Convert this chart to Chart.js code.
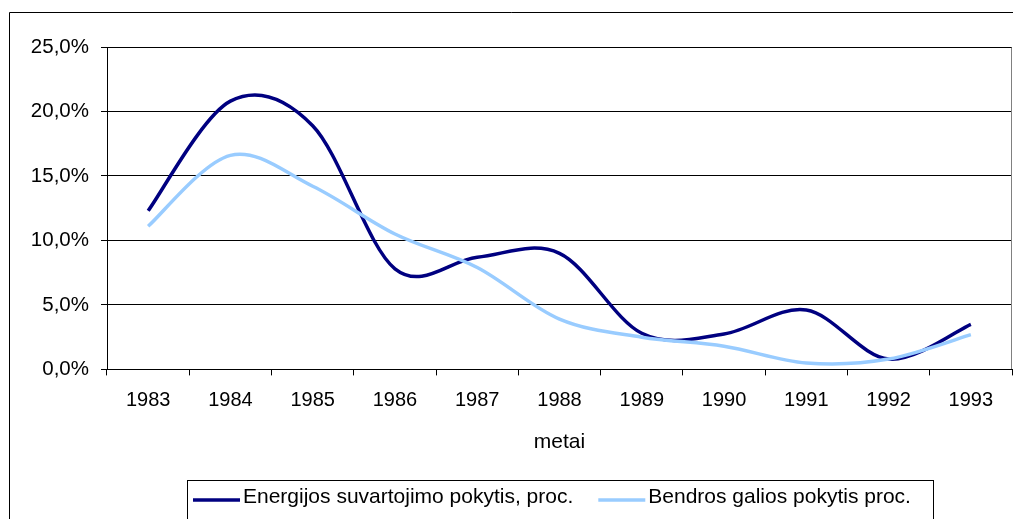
<!DOCTYPE html>
<html>
<head>
<meta charset="utf-8">
<script src="https://cdn.jsdelivr.net/npm/chart.js@4"></script>
<style>
  html, body { margin: 0; padding: 0; background: #fff; }
  #wrap { width: 1013px; height: 519px; position: relative; }
</style>
</head>
<body>
<div id="wrap"><canvas id="c" width="1013" height="519"></canvas></div>
<script>
// ---- data (percent) ----
const years = ['1983','1984','1985','1986','1987','1988','1989','1990','1991','1992','1993'];
const energyChange = [12.3, 20.8, 18.9, 7.8, 8.7, 9.0, 2.8, 2.75, 4.6, 0.8, 3.5];
const totalPowerChange = [11.1, 16.6, 14.2, 10.5, 7.9, 3.9, 2.5, 1.8, 0.5, 0.8, 2.7];
const seriesNames = ['Energijos suvartojimo pokytis, proc.', 'Bendros galios pokytis proc.'];
const seriesColors = ['#000080', '#99CCFF'];
const axisTitleX = 'metai';

const FONT = "'Liberation Sans', Arial, sans-serif";
Chart.defaults.font.family = FONT;
Chart.defaults.color = '#000';

// Excel-like smoothing: uniform Catmull-Rom control points on the library's own points
const smoothPlugin = {
  id: 'excelSmooth',
  beforeDatasetDraw(chart, args) {
    const line = args.meta.dataset;
    if (!line) return;
    line.updateControlPoints(chart.chartArea, 'x');
    const pts = args.meta.data;
    const n = pts.length;
    for (let i = 0; i < n; i++) {
      const p = pts[i];
      const prev = pts[Math.max(0, i - 1)];
      const next = pts[Math.min(n - 1, i + 1)];
      const dx = (next.x - prev.x) / 6;
      const dy = (next.y - prev.y) / 6;
      p.cp1x = p.x - dx; p.cp1y = p.y - dy;
      p.cp2x = p.x + dx; p.cp2y = p.y + dy;
    }
    line._path = undefined;
  }
};

const framePlugin = {
  id: 'frame',
  beforeDraw(chart) {
    const ctx = chart.ctx;
    ctx.save();
    ctx.fillStyle = '#fff';
    ctx.fillRect(0, 0, chart.width, chart.height);
    ctx.strokeStyle = '#000';
    ctx.lineWidth = 1;
    ctx.beginPath();
    ctx.moveTo(9.5, chart.height + 2);
    ctx.lineTo(9.5, 12.5);
    ctx.lineTo(chart.width + 2, 12.5);
    ctx.stroke();
    ctx.restore();
  },
  afterDatasetsDraw(chart) {
    const ctx = chart.ctx;
    const a = chart.chartArea;
    ctx.save();
    ctx.strokeStyle = '#808080';
    ctx.lineWidth = 1;
    ctx.beginPath();
    ctx.moveTo(Math.round(a.right) - 0.5, Math.round(a.top) + 0.5);
    ctx.lineTo(Math.round(a.right) - 0.5, Math.round(a.bottom));
    ctx.stroke();
    ctx.restore();
  },
  afterDraw(chart) {
    const ctx = chart.ctx;
    ctx.save();
    ctx.font = '21px ' + FONT;
    const lineY = 500;
    const textY = 497;
    let x = 193;
    const sample = 47, gap = 3, between = 25;
    const items = [];
    seriesNames.forEach((name, i) => {
      items.push({ x, name, color: seriesColors[i] });
      x += sample + gap + ctx.measureText(name).width + between;
    });
    const boxLeft = 187.5, boxRight = 933.5;
    ctx.strokeStyle = '#000';
    ctx.lineWidth = 1;
    ctx.strokeRect(boxLeft, 480.5, boxRight - boxLeft, 60);
    items.forEach(it => {
      ctx.strokeStyle = it.color;
      ctx.lineWidth = 3.5;
      ctx.beginPath();
      ctx.moveTo(it.x, lineY);
      ctx.lineTo(it.x + sample, lineY);
      ctx.stroke();
      ctx.fillStyle = '#000';
      ctx.textBaseline = 'middle';
      ctx.textAlign = 'left';
      ctx.fillText(it.name, it.x + sample + gap, textY);
    });
    ctx.restore();
  }
};

new Chart(document.getElementById('c'), {
  type: 'line',
  data: {
    labels: years,
    datasets: [
      {
        label: seriesNames[0],
        data: energyChange,
        borderColor: seriesColors[0],
        backgroundColor: seriesColors[0],
        borderWidth: 3.5,
        pointRadius: 0,
        tension: 0.34,
        fill: false,
        order: 1
      },
      {
        label: seriesNames[1],
        data: totalPowerChange,
        borderColor: seriesColors[1],
        backgroundColor: seriesColors[1],
        borderWidth: 3.5,
        pointRadius: 0,
        tension: 0.34,
        fill: false,
        order: 0
      }
    ]
  },
  options: {
    responsive: false,
    animation: false,
    devicePixelRatio: 1,
    layout: { padding: { top: 47, right: 1, bottom: 62, left: 0 } },
    plugins: {
      legend: { display: false },
      tooltip: { enabled: false }
    },
    scales: {
      x: {
        type: 'category',
        offset: true,
        grid: {
          offset: true,
          drawOnChartArea: false,
          drawTicks: true,
          tickLength: 6,
          color: '#000'
        },
        border: { display: true, color: '#000', width: 1 },
        ticks: {
          font: { size: 20 },
          color: '#000',
          padding: 13,
          maxRotation: 0,
          autoSkip: false
        },
        title: {
          display: true,
          text: axisTitleX,
          font: { size: 21 },
          color: '#000',
          padding: { top: 4, bottom: 2 }
        },
        afterFit(scale) { scale.height = 87.6; }
      },
      y: {
        min: 0,
        max: 25,
        grid: {
          color: '#000',
          drawTicks: true,
          tickLength: 6
        },
        border: { display: true, color: '#000', width: 1 },
        ticks: {
          stepSize: 5,
          font: { size: 20.5 },
          color: '#000',
          padding: 12,
          callback: v => v.toFixed(1).replace('.', ',') + '%'
        },
        afterFit(scale) { scale.width = 107; }
      }
    }
  },
  plugins: [smoothPlugin, framePlugin]
});
</script>
</body>
</html>
